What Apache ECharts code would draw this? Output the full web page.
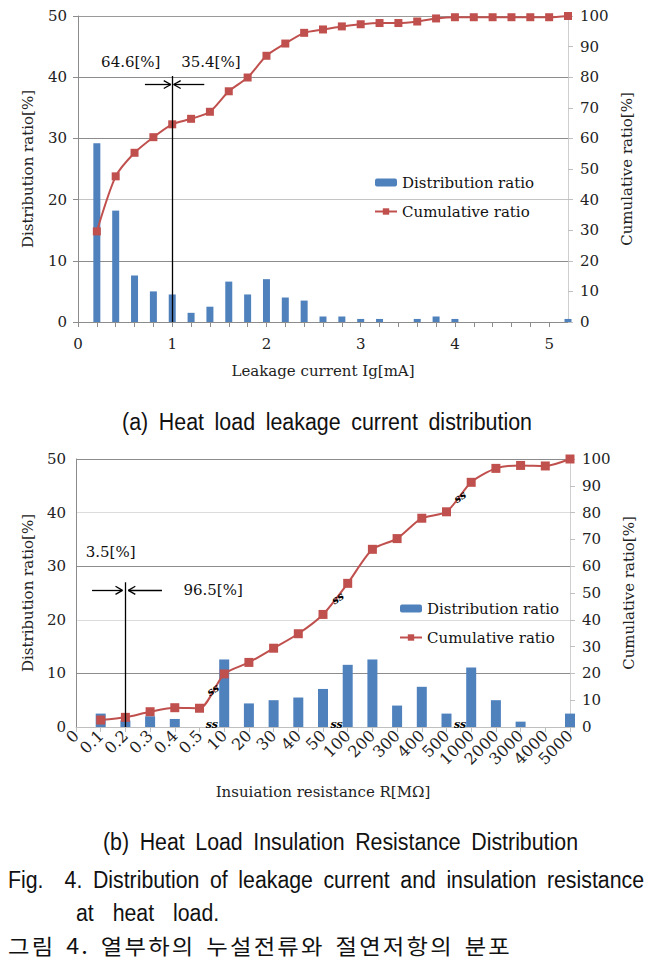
<!DOCTYPE html>
<html>
<head>
<meta charset="utf-8">
<script src="https://cdn.jsdelivr.net/npm/echarts@6.0.0/dist/echarts.min.js"></script>
<style>
  html, body { margin: 0; padding: 0; background: #fff; }
  #chart { position: absolute; left: 0; top: 0; width: 662px; height: 970px; }
  .cap {
    position: absolute;
    font-family: "Liberation Sans", Arial, sans-serif;
    font-size: 23px;
    color: #111;
    white-space: pre;
    line-height: 26px;
    transform-origin: 0 0;
    word-spacing: 5px;
  }
  .kr { font-family: "Noto Sans CJK KR", sans-serif; font-size: 21px; letter-spacing: 2px; word-spacing: 3px; }
</style>
</head>
<body>
<div id="chart"></div>
<div class="cap" data-w="410" style="left:122px; top:409px;">(a) Heat load leakage current distribution</div>
<div class="cap" data-w="475" style="left:103px; top:829px;">(b) Heat Load Insulation Resistance Distribution</div>
<div class="cap" data-w="636" id="fig" style="left:8px; top:867px;">Fig.  4. Distribution of leakage current and insulation resistance</div>
<div class="cap" id="fig2" style="left:76px; top:900px; word-spacing:14px;">at heat load.</div>
<div class="cap kr" data-w="504" style="left:8px; top:932px;">그림 4. 열부하의 누설전류와 절연저항의 분포</div>
<script>
// (a) leakage current, x in mA
const currentX = [0.2, 0.4, 0.6, 0.8, 1.0, 1.2, 1.4, 1.6, 1.8, 2.0, 2.2, 2.4, 2.6,
  2.8, 3.0, 3.2, 3.4, 3.6, 3.8, 4.0, 4.2, 4.4, 4.6, 4.8, 5.0, 5.2];
const leakDist = [29.2, 18.2, 7.6, 5.0, 4.5, 1.5, 2.5, 6.6, 4.5, 7.0, 4.0, 3.5, 0.9,
  0.9, 0.5, 0.5, 0, 0.5, 0.9, 0.5, 0, 0, 0, 0, 0, 0.5];
const leakCum = [29.6, 47.6, 55.3, 60.4, 64.6, 66.4, 68.7, 75.4, 79.9, 87.0, 91.0, 94.5, 95.6,
  96.6, 97.3, 97.7, 97.7, 98.2, 99.2, 99.6, 99.6, 99.6, 99.6, 99.6, 99.6, 100];

// (b) insulation resistance, categories in MΩ
const resCats = ['0', '0.1', '0.2', '0.3', '0.4', '0.5', '10', '20', '30', '40', '50',
  '100', '200', '300', '400', '500', '1000', '2000', '3000', '4000', '5000'];
const resDist = [null, 2.5, 1.2, 2.0, 1.5, 0, 12.6, 4.4, 5.0, 5.5, 7.1,
  11.6, 12.6, 4.0, 7.5, 2.5, 11.1, 5.0, 1.0, 0, 2.5];
const resCum = [null, 2.6, 3.6, 5.7, 7.2, 7.0, 19.8, 24.1, 29.4, 34.8, 42.0,
  53.6, 66.3, 70.3, 77.9, 80.3, 91.3, 96.5, 97.6, 97.4, 100];

// squeeze the captions to the widths they have in the figure
document.querySelectorAll('.cap[data-w]').forEach(el => {
  const w = el.getBoundingClientRect().width;
  el.style.transform = 'scaleX(' + (Number(el.dataset.w) / w) + ')';
});
// second line of the figure caption uses the same squeeze as the first
document.getElementById('fig2').style.transform = document.getElementById('fig').style.transform;

const SERIF = 'DejaVu Serif';
const BLUE = '#4f81bd';
const RED = '#c0504d';
const txt = { fontFamily: SERIF, fontSize: 15, color: '#222' };

// shaft plus an open head drawn as two short strokes
function arrow(x1, x2, y, dx, dy) {
  const back = x2 > x1 ? x2 - dx : x2 + dx;
  return [
    [{ coord: [x1, y] }, { coord: [x2, y] }],
    [{ coord: [back, y + dy] }, { coord: [x2, y] }],
    [{ coord: [back, y - dy] }, { coord: [x2, y] }]
  ];
}
function note(x, y, text) {
  return {
    coord: [x, y], symbol: 'rect', symbolSize: 1,
    itemStyle: { color: 'rgba(0,0,0,0)' },
    label: Object.assign({ show: true, position: 'inside', formatter: text }, txt, { color: '#111' })
  };
}
function brk(x, y, rot) {
  return {
    coord: [x, y], symbol: 'rect', symbolSize: 1,
    itemStyle: { color: 'rgba(0,0,0,0)' },
    label: { show: true, position: 'inside', formatter: 'ss', rotate: rot,
      fontFamily: SERIF, fontStyle: 'italic', fontWeight: 'bold', fontSize: 11, color: '#000' }
  };
}

const chart = echarts.init(document.getElementById('chart'), null, { renderer: 'svg' });

const option = {
  animation: false,
  backgroundColor: '#fff',
  grid: [
    { left: 78, top: 16, width: 490, height: 306, outerBoundsMode: 'none' },
    { left: 76, top: 459, width: 494, height: 268, outerBoundsMode: 'none' }
  ],
  legend: [
    {
      data: ['Distribution ratio', 'Cumulative ratio'], orient: 'vertical',
      left: 369, top: 170, itemGap: 14, itemWidth: 22, itemHeight: 8,
      textStyle: { fontFamily: SERIF, fontSize: 15, color: '#111' }, selectedMode: false
    },
    {
      data: ['Distribution ratio', 'Cumulative ratio'], orient: 'vertical',
      left: 394, top: 596, itemGap: 14, itemWidth: 22, itemHeight: 8,
      textStyle: { fontFamily: SERIF, fontSize: 15, color: '#111' }, selectedMode: false
    }
  ],
  xAxis: [
    {
      gridIndex: 0, type: 'value', min: 0, max: 5.2, interval: 0.2,
      axisLine: { lineStyle: { color: '#8c8c8c' } },
      axisTick: { show: true, length: 5, lineStyle: { color: '#8c8c8c' } },
      splitLine: { show: false },
      axisLabel: Object.assign({
        margin: 14, showMaxLabel: false,
        formatter: v => {
          const r = Math.round(v * 1000) / 1000;
          return Number.isInteger(r) ? String(r) : '';
        }
      }, txt),
      name: 'Leakage current Ig[mA]', nameLocation: 'middle', nameGap: 41,
      nameTextStyle: txt
    },
    {
      gridIndex: 1, type: 'category', data: resCats, boundaryGap: false,
      axisLine: { lineStyle: { color: '#bfbfbf' } },
      axisTick: { show: true, length: 5, lineStyle: { color: '#bfbfbf' } },
      splitLine: { show: false },
      axisLabel: Object.assign({ rotate: 45, interval: 0, margin: 6 }, txt, { fontSize: 16 }),
      name: 'Insuiation resistance R[MΩ]', nameLocation: 'middle', nameGap: 57,
      nameTextStyle: txt
    },
    // helper axis in category index units, for the notes on chart (b)
    { gridIndex: 1, type: 'value', min: 0, max: 20, show: false }
  ],
  yAxis: [
    {
      gridIndex: 0, type: 'value', min: 0, max: 50, interval: 10,
      axisLine: { show: true, lineStyle: { color: '#8c8c8c' } },
      axisTick: { show: true, length: 5, lineStyle: { color: '#8c8c8c' } },
      splitLine: { lineStyle: { color: ['#8c8c8c', '#8c8c8c', '#c4c4c4', '#8c8c8c', '#8c8c8c', '#9a9a9a'] } },
      axisLabel: Object.assign({ margin: 11 }, txt),
      name: 'Distribution ratio[%]', nameLocation: 'middle', nameGap: 43, nameRotate: 90,
      nameTextStyle: txt
    },
    {
      gridIndex: 0, type: 'value', position: 'right', min: 0, max: 100, interval: 10,
      axisLine: { show: true, lineStyle: { color: '#cfcfcf' } },
      axisTick: { show: true, length: 5, lineStyle: { color: '#bfbfbf' } },
      splitLine: { show: false },
      axisLabel: Object.assign({ margin: 12 }, txt),
      name: 'Cumulative ratio[%]', nameLocation: 'middle', nameGap: 45, nameRotate: 90,
      nameTextStyle: txt
    },
    {
      gridIndex: 1, type: 'value', min: 0, max: 50, interval: 10,
      axisLine: { show: true, lineStyle: { color: '#8c8c8c' } },
      axisTick: { show: false },
      splitLine: { lineStyle: { color: ['#dcdcdc', '#8c8c8c'] } },
      axisLabel: Object.assign({ margin: 10 }, txt),
      name: 'Distribution ratio[%]', nameLocation: 'middle', nameGap: 41, nameRotate: 90,
      nameTextStyle: txt
    },
    {
      gridIndex: 1, type: 'value', position: 'right', min: 0, max: 100, interval: 10,
      axisLine: { show: true, lineStyle: { color: '#cfcfcf' } },
      axisTick: { show: true, length: 5, lineStyle: { color: '#bfbfbf' } },
      splitLine: { show: false },
      axisLabel: Object.assign({ margin: 12 }, txt),
      name: 'Cumulative ratio[%]', nameLocation: 'middle', nameGap: 50, nameRotate: 90,
      nameTextStyle: txt
    }
  ],
  series: [
    {
      name: 'Distribution ratio', type: 'bar', xAxisIndex: 0, yAxisIndex: 0,
      barWidth: 7, itemStyle: { color: BLUE },
      data: currentX.map((x, i) => [x, leakDist[i]]),
      markLine: {
        silent: true, symbol: 'none', label: { show: false },
        lineStyle: { color: '#000', width: 1.3, type: 'solid' },
        data: [[{ coord: [1, 0] }, { coord: [1, 40.2] }]]
          .concat(arrow(0.71, 0.985, 38.8, 0.075, 0.65))
          .concat(arrow(1.34, 1.015, 38.8, 0.075, 0.65))
      },
      markPoint: {
        silent: true,
        data: [note(0.56, 42.5, '64.6[%]'), note(1.41, 42.5, '35.4[%]')]
      }
    },
    {
      name: 'Cumulative ratio', type: 'line', xAxisIndex: 0, yAxisIndex: 1,
      smooth: 0.25, symbol: 'rect', symbolSize: 8,
      itemStyle: { color: RED }, lineStyle: { color: RED, width: 2 },
      data: currentX.map((x, i) => [x, leakCum[i]])
    },
    {
      name: 'Distribution ratio', type: 'bar', xAxisIndex: 1, yAxisIndex: 2,
      barWidth: 10, itemStyle: { color: BLUE }, data: resDist
    },
    {
      name: 'Cumulative ratio', type: 'line', xAxisIndex: 1, yAxisIndex: 3,
      smooth: 0.25, symbol: 'rect', symbolSize: 9,
      itemStyle: { color: RED }, lineStyle: { color: RED, width: 2 },
      data: resCum
    },
    {
      name: 'notes', type: 'line', xAxisIndex: 2, yAxisIndex: 2, data: [],
      markLine: {
        silent: true, symbol: 'none', label: { show: false },
        lineStyle: { color: '#000', width: 1.3, type: 'solid' },
        data: [[{ coord: [2, 0] }, { coord: [2, 27] }]]
          .concat(arrow(0.65, 1.88, 25.5, 0.28, 0.75))
          .concat(arrow(3.48, 2.12, 25.5, 0.28, 0.75))
      },
      markPoint: {
        silent: true,
        data: [
          note(1.4, 32.6, '3.5[%]'),
          note(5.55, 25.5, '96.5[%]'),
          brk(5.5, 0.5, 0), brk(10.55, 0.5, 0), brk(15.55, 0.5, 0),
          brk(5.55, 6.9, 35), brk(10.6, 24.0, 35), brk(15.55, 42.9, 35)
        ]
      }
    }
  ]
};

chart.setOption(option);
</script>
</body>
</html>
